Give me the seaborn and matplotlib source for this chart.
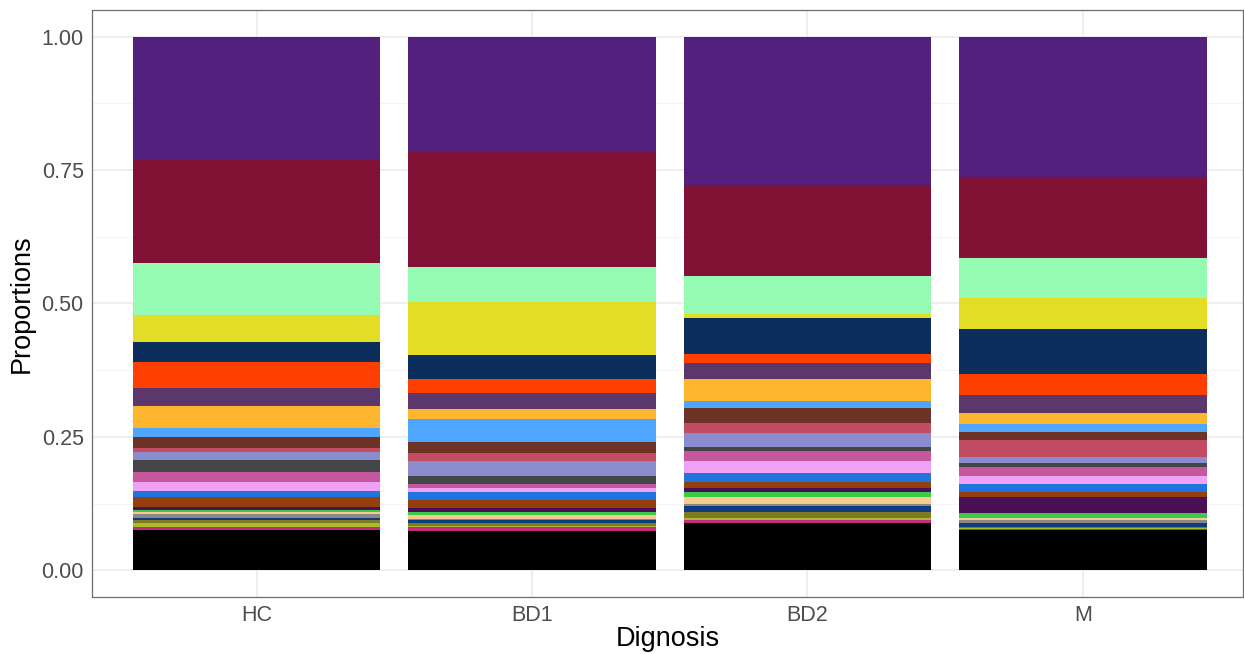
import numpy as np
import pandas as pd
import matplotlib
matplotlib.use("Agg")
import matplotlib.pyplot as plt
import seaborn as sns

groups = ["HC", "BD1", "BD2", "M"]

# taxa listed bottom -> top of the stack
taxa = ["t01", "t02", "t03", "t04", "t05", "t06", "t07", "t08", "t09", "t10",
        "t11", "t12", "t13", "t14", "t15", "t16", "t17", "t18", "t19", "t20",
        "t21", "t22", "t23", "t24", "t25", "t26"]

colors = ["#000000", "#C22A7E", "#A9BB2B", "#7E7B24", "#0E3C7E", "#888888",
          "#F7CA91", "#3BCB4A", "#4A0F55", "#953F0F", "#1F74DF", "#EFA1F5",
          "#C4579E", "#434549", "#8A8CCD", "#C44C62", "#6E3327", "#4FA6FF",
          "#FDB62D", "#5B376B", "#FF3F00", "#0B2E5C", "#E3DD25", "#95FBB2",
          "#811236", "#53207E"]

prop_HC = [0.075, 0.006, 0.007, 0.006, 0.005, 0.006, 0.005, 0.004, 0.004, 0.019,
           0.011, 0.017, 0.019, 0.022, 0.015, 0.009, 0.019, 0.017, 0.041, 0.034,
           0.049, 0.037, 0.052, 0.096, 0.195, 0.230]
prop_BD1 = [0.073, 0.008, 0.003, 0.004, 0.006, 0.003, 0.006, 0.007, 0.006, 0.015,
            0.015, 0.009, 0.006, 0.015, 0.028, 0.015, 0.021, 0.043, 0.020, 0.030,
            0.025, 0.045, 0.099, 0.067, 0.216, 0.215]
prop_BD2 = [0.088, 0.006, 0.005, 0.010, 0.011, 0.005, 0.012, 0.009, 0.009, 0.010,
            0.017, 0.022, 0.019, 0.009, 0.025, 0.020, 0.028, 0.013, 0.040, 0.030,
            0.018, 0.066, 0.009, 0.070, 0.170, 0.279]
prop_M = [0.075, 0.002, 0.002, 0.003, 0.006, 0.006, 0.005, 0.008, 0.030, 0.009,
          0.015, 0.015, 0.017, 0.009, 0.010, 0.033, 0.015, 0.015, 0.019, 0.034,
          0.039, 0.086, 0.058, 0.075, 0.150, 0.264]

props = {"HC": prop_HC, "BD1": prop_BD1, "BD2": prop_BD2, "M": prop_M}

rows = []
for g in groups:
    vals = np.array(props[g], dtype=float)
    vals = vals / vals.sum()
    cum = np.cumsum(vals)
    for t, v, c in zip(taxa, vals, cum):
        rows.append({"Diagnosis": g, "taxon": t, "prop": v, "cum": c})
df = pd.DataFrame(rows)

sns.set_theme(style="white")
plt.rcParams["font.family"] = ["Liberation Sans", "DejaVu Sans"]

fig = plt.figure(figsize=(12.44, 6.54), dpi=100)
ax = fig.add_axes([0.074, 0.087, 0.925, 0.898])

# draw cumulative bars from top of stack down so lower segments overlay
for t, c in reversed(list(zip(taxa, colors))):
    sub = df[df["taxon"] == t]
    sns.barplot(data=sub, x="Diagnosis", y="cum", order=groups, color=c,
                saturation=1, width=0.9, linewidth=0, errorbar=None, ax=ax,
                zorder=3)

ax.set_xlim(-0.597, 3.58)
ax.set_ylim(-0.05, 1.05)
ax.set_yticks([0, 0.25, 0.5, 0.75, 1.0])
ax.set_yticklabels(["0.00", "0.25", "0.50", "0.75", "1.00"])
ax.set_yticks([0.125, 0.375, 0.625, 0.875], minor=True)

ax.grid(True, which="major", color="#EBEBEB", linewidth=1.2, zorder=0)
ax.grid(True, which="minor", axis="y", color="#F2F2F2", linewidth=0.6, zorder=0)
ax.set_axisbelow(True)

for s in ax.spines.values():
    s.set_visible(True)
    s.set_color("#6E6E6E")
    s.set_linewidth(0.9)

ax.tick_params(axis="both", which="major", length=4, width=0.9, color="#333333",
               labelsize=15.5, labelcolor="#4D4D4D", pad=2)
ax.tick_params(axis="both", which="minor", length=0)
ax.set_xlabel("Dignosis", fontsize=19.5, color="black", labelpad=0)
ax.set_ylabel("Proportions", fontsize=19.5, color="black", labelpad=5)

fig.savefig("out.png", dpi=100, facecolor="white")
